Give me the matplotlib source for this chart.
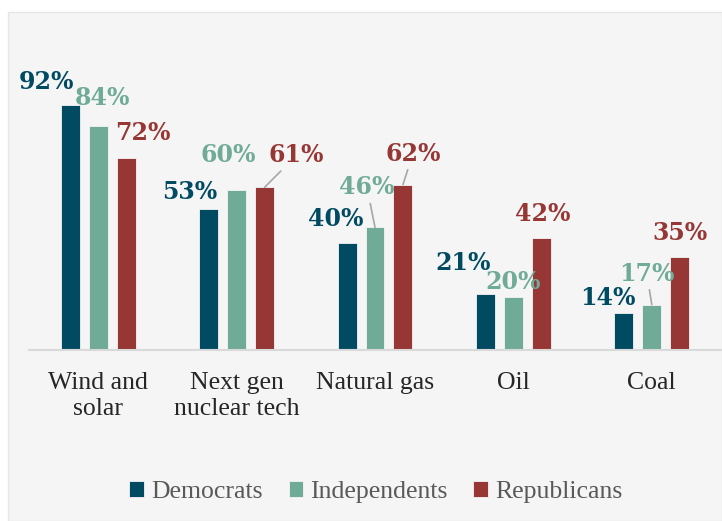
import numpy as np
import matplotlib
matplotlib.use('Agg')
import matplotlib.pyplot as plt
from matplotlib.patches import Rectangle

# data
categories = ['Wind and\nsolar', 'Next gen\nnuclear tech', 'Natural gas', 'Oil', 'Coal']
series = ['Democrats', 'Independents', 'Republicans']
democrats = [92, 53, 40, 21, 14]
independents = [84, 60, 46, 20, 17]
republicans = [72, 61, 62, 42, 35]

colors = ['#004a62', '#6fab96', '#963735']

# label offsets (pixels) from top of each bar, and whether it has a leader line
offsets = {
    0: [(-24, 23), (-19, 17), (-11, 24), (-22, 31), (-16, 15)],
    1: [(4, 28), (-8, 35), (-8, 40), (0, 15), (-5, 31)],
    2: [(17, 25), (32, 32), (10, 31), (1, 24), (0, 24)],
}
leaders = {(2, 1), (1, 2), (2, 2), (1, 4)}

plt.rcParams['font.family'] = ['Liberation Serif', 'DejaVu Serif']

W, H = 722, 521
fig = plt.figure(figsize=(W / 100, H / 100), dpi=100)
fig.patches.append(Rectangle((8 / W, 0), 1 - 8 / W, 1 - 12 / H, transform=fig.transFigure,
                             facecolor='#f5f5f5', edgecolor='#e6e6e6', linewidth=1, zorder=-10))

ax = fig.add_axes([29 / W, (H - 350) / H, 692 / W, 320 / H])
ax.set_facecolor('none')

x = np.arange(len(categories))
width = 0.137
step = 0.202
values = [democrats, independents, republicans]

for i, (name, vals) in enumerate(zip(series, values)):
    xs = x + (i - 1) * step
    ax.bar(xs, vals, width, color=colors[i], label=name, edgecolor='#f5f5f5', linewidth=0.6)
    for j, v in enumerate(vals):
        dx, dy = offsets[i][j]
        kw = {}
        if (i, j) in leaders:
            kw['arrowprops'] = dict(arrowstyle='-', color='#a6a6a6', lw=1.2, shrinkA=1, shrinkB=0)
        ax.annotate(f'{v}%', xy=(xs[j], v), xytext=(dx, dy), textcoords='offset pixels',
                    ha='center', va='center', fontsize=17, fontweight='bold',
                    family='DejaVu Serif', color=colors[i], **kw)

ax.set_xlim(-0.5, 4.5)
ax.set_ylim(0, 120)
ax.set_yticks([])
ax.set_xticks(x)
ax.set_xticklabels(categories, fontsize=18.5, color='#262626', linespacing=1.25)
ax.tick_params(axis='x', length=0, pad=16)
for s in ['top', 'right', 'left']:
    ax.spines[s].set_visible(False)
ax.spines['bottom'].set_color('#d9d9d9')
ax.spines['bottom'].set_linewidth(1.5)

fig.legend(loc='center', bbox_to_anchor=(376 / W, 1 - 492 / H), ncol=3, frameon=False,
           fontsize=18.5, labelcolor='#595959', handlelength=0.55, handleheight=0.55,
           handletextpad=0.3, columnspacing=1.0)

plt.savefig('out.png', dpi=100)
